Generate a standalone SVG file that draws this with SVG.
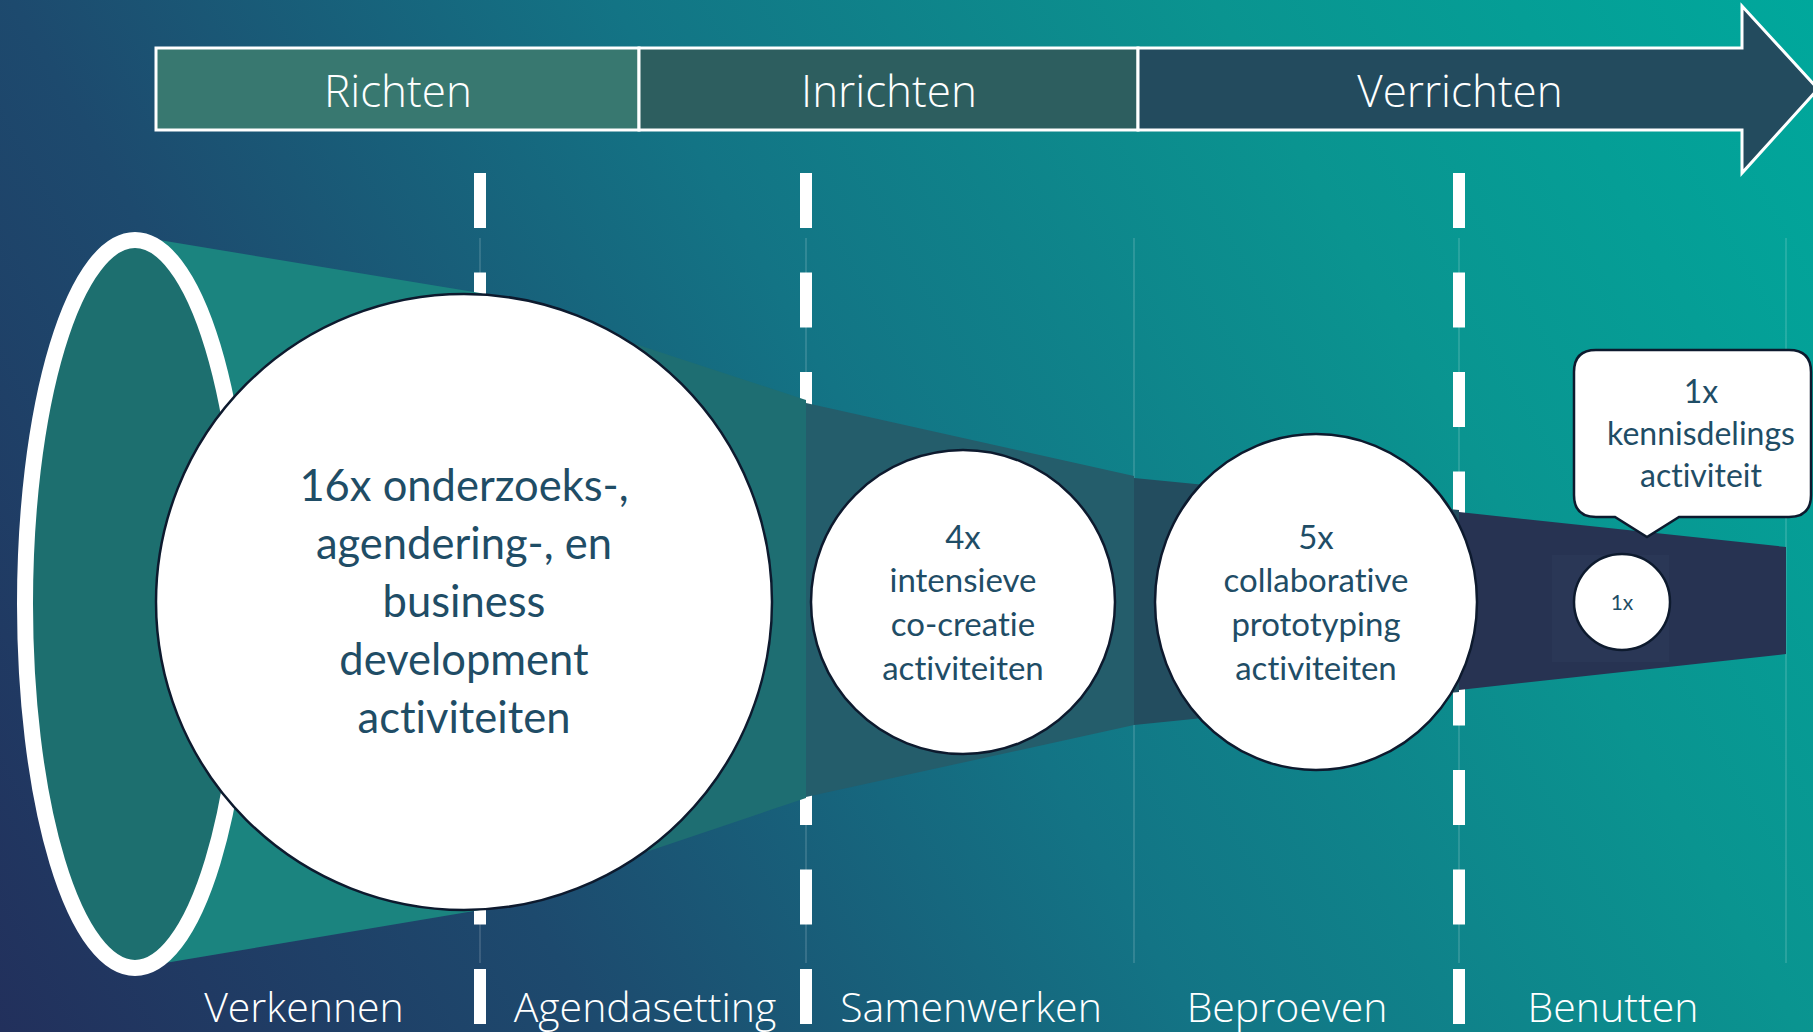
<svg xmlns="http://www.w3.org/2000/svg" width="1813" height="1032" viewBox="0 0 1813 1032">
<defs>
<linearGradient id="bg" gradientUnits="userSpaceOnUse" x1="0" y1="1032" x2="1813" y2="0">
<stop offset="0" stop-color="#22305c"/>
<stop offset="0.25" stop-color="#1d4a6e"/>
<stop offset="0.5" stop-color="#137485"/>
<stop offset="0.75" stop-color="#0a9490"/>
<stop offset="1" stop-color="#00a89c"/>
</linearGradient>
</defs>
<style>
.banner{stroke:#ffffff;stroke-width:3}
.btxt{font-family:"Open Sans","Liberation Sans",sans-serif;font-weight:300;font-size:44px;fill:#ffffff;text-anchor:middle}
.ltxt{font-family:"Open Sans","Liberation Sans",sans-serif;font-weight:300;font-size:41px;fill:#ffffff;text-anchor:middle}
.dash{stroke:#ffffff;stroke-width:12;stroke-dasharray:55 44.5}
.faint{stroke:#ffffff;stroke-opacity:0.18;stroke-width:1.5}
.node{fill:#ffffff;stroke:#0d1a2e;stroke-width:2.5}
.ctxt{font-family:Lato,"Noto Sans",sans-serif;fill:#1f4d66;text-anchor:middle;font-variant-ligatures:none;font-feature-settings:"liga" 0}
</style>
<rect x="0" y="0" width="1813" height="1032" fill="url(#bg)"/>

<g id="faint-lines">
<line class="faint" x1="480" y1="238" x2="480" y2="963"/>
<line class="faint" x1="806" y1="238" x2="806" y2="963"/>
<line class="faint" x1="1134" y1="238" x2="1134" y2="963"/>
<line class="faint" x1="1459" y1="238" x2="1459" y2="963"/>
<line class="faint" x1="1786" y1="238" x2="1786" y2="963"/>
</g>

<g id="banner">
<rect class="banner" x="156" y="48" width="483" height="82" fill="#387870"/>
<rect class="banner" x="639" y="48" width="499" height="82" fill="#2d5e5f"/>
<path class="banner" d="M1138,48 H1742 V6 L1818,89 L1742,173 V130 H1138 Z" fill="#234b5e"/>
<text class="btxt" x="398" y="107">Richten</text>
<text class="btxt" x="889" y="107">Inrichten</text>
<text class="btxt" x="1460" y="107">Verrichten</text>
</g>

<g id="dashes">
<line class="dash" x1="480" y1="173" x2="480" y2="1032"/>
<line class="dash" x1="806" y1="173" x2="806" y2="1032"/>
<line class="dash" x1="1459" y1="173" x2="1459" y2="1032"/>
</g>

<g id="funnel">
<polygon points="135,236 480,293 480,910 135,968" fill="#1b847f"/>
<polygon points="480,293 806,400 806,798 480,908" fill="#1e6e72"/>
<polygon points="806,403 1134,476 1134,725 806,797" fill="#245d6b"/>
<polygon points="1134,478 1459,510 1459,692 1134,725" fill="#234d5f"/>
<polygon points="1459,512 1786,547 1786,654 1459,690" fill="#273352"/>
<rect x="1552" y="555" width="117" height="107" fill="#2a3756"/>
<ellipse cx="135" cy="604" rx="110" ry="364" fill="#1d6f6f" stroke="#ffffff" stroke-width="16"/>
</g>

<g id="node-16x">
<circle class="node" cx="464" cy="602" r="308"/>
<text class="ctxt" font-size="43.5" x="464" y="501">16x onderzoeks-,</text>
<text class="ctxt" font-size="43.5" x="464" y="559">agendering-, en</text>
<text class="ctxt" font-size="43.5" x="464" y="617">business</text>
<text class="ctxt" font-size="43.5" x="464" y="675">development</text>
<text class="ctxt" font-size="43.5" x="464" y="733">activiteiten</text>
</g>

<g id="node-4x">
<circle class="node" cx="963" cy="602" r="152"/>
<text class="ctxt" font-size="33" x="963" y="549">4x</text>
<text class="ctxt" font-size="33" x="963" y="592">intensieve</text>
<text class="ctxt" font-size="33" x="963" y="636">co-creatie</text>
<text class="ctxt" font-size="33" x="963" y="680">activiteiten</text>
</g>

<g id="node-5x">
<ellipse class="node" cx="1316" cy="602" rx="161" ry="168"/>
<text class="ctxt" font-size="33" x="1316" y="549">5x</text>
<text class="ctxt" font-size="33" x="1316" y="592">collaborative</text>
<text class="ctxt" font-size="33" x="1316" y="636">prototyping</text>
<text class="ctxt" font-size="33" x="1316" y="680">activiteiten</text>
</g>

<g id="node-1x">
<circle class="node" cx="1622" cy="602" r="48"/>
<text class="ctxt" font-size="21" x="1622" y="610">1x</text>
</g>

<g id="callout">
<path class="node" d="M1596,350 H1789 Q1811,350 1811,372 V495 Q1811,517 1789,517 H1679 L1647,537 L1615,517 H1596 Q1574,517 1574,495 V372 Q1574,350 1596,350 Z"/>
<text class="ctxt" font-size="32" x="1701" y="403">1x</text>
<text class="ctxt" font-size="32" x="1701" y="445">kennisdelings</text>
<text class="ctxt" font-size="32" x="1701" y="487">activiteit</text>
</g>

<g id="phase-labels">
<text class="ltxt" x="304" y="1022">Verkennen</text>
<text class="ltxt" x="645" y="1022">Agendasetting</text>
<text class="ltxt" x="971" y="1022">Samenwerken</text>
<text class="ltxt" x="1287" y="1022">Beproeven</text>
<text class="ltxt" x="1613" y="1022">Benutten</text>
</g>
</svg>
